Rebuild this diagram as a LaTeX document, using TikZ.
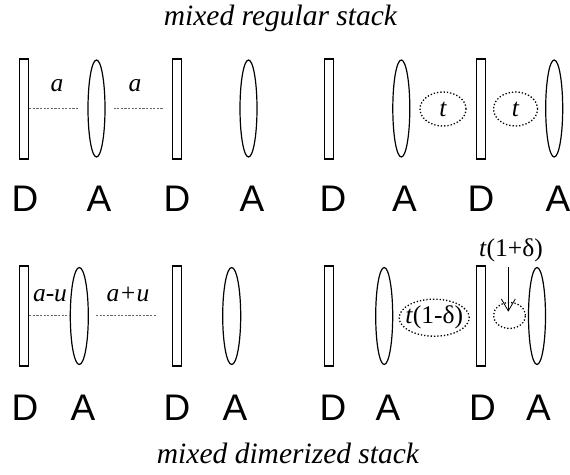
\documentclass[tikz,border=0pt]{standalone}
\usepackage{fontspec}
\setmainfont{Liberation Serif}
\newfontfamily\lsans{Liberation Sans}
\usetikzlibrary{shapes.geometric,arrows.meta}
\tikzset{
  donor/.style={draw, rectangle, line width=1.2pt, minimum width=9pt, minimum height=100pt, inner sep=0pt},
  acceptor/.style={draw, ellipse, line width=1.2pt, minimum width=17pt, minimum height=97pt, inner sep=0pt},
  hop/.style={draw, ellipse, dotted, line width=1.3pt, inner sep=0pt},
  lbl/.style={font=\lsans\fontsize{37}{37}\selectfont, anchor=base, inner sep=0pt},
  ttl/.style={font=\fontsize{29.5}{29.5}\selectfont\itshape, anchor=base, inner sep=0pt},
  sym/.style={font=\fontsize{25.5}{25.5}\selectfont, anchor=base, inner sep=0pt},
  dist/.style={draw=black!60, dashed, dash pattern=on 2.2pt off 1.4pt, line width=0.7pt},
}
\begin{document}
\begin{tikzpicture}[x=1pt,y=-1pt]
\useasboundingbox (0,0) rectangle (570,474);
% titles
\node[ttl] (t1) at (280.5,25) {mixed regular stack};
\node[ttl] (t2) at (288,463) {mixed dimerized stack};
% top row
\node[donor] (uD1) at (24,109) {};
\node[acceptor] (uA1) at (96.5,108.5) {};
\node[donor] (uD2) at (177.3,109) {};
\node[acceptor] (uA2) at (248.5,108.5) {};
\node[donor] (uD3) at (329,109) {};
\node[acceptor] (uA3) at (401.3,108.5) {};
\node[hop, minimum width=46pt, minimum height=34pt] (uh1) at (443,109) {};
\node[donor] (uD4) at (481.2,109) {};
\node[hop, minimum width=44pt, minimum height=34pt] (uh2) at (515.5,109) {};
\node[acceptor] (uA4) at (554.2,108.5) {};
\node[sym, anchor=center] (ut1) at (uh1.center) {\itshape t};
\node[sym, anchor=center] (ut2) at (uh2.center) {\itshape t};
\draw[dist, shorten >=9pt] (uD1.east |- 0,108.7) -- (uA1.west |- 0,108.7);
\draw[dist, shorten <=8pt, shorten >=9pt] (uA1.east |- 0,108.7) -- (uD2.west |- 0,108.7);
\node[sym] (ua1) at (57,91.7) {\itshape a};
\node[sym] (ua2) at (135,91.7) {\itshape a};
\node[lbl] (ul1) at (25,211.7) {D};
\node[lbl] (ul2) at (99,211.7) {A};
\node[lbl] (ul3) at (177,211.7) {D};
\node[lbl] (ul4) at (252,211.7) {A};
\node[lbl] (ul5) at (333,211.7) {D};
\node[lbl] (ul6) at (404.5,211.7) {A};
\node[lbl] (ul7) at (481,211.7) {D};
\node[lbl] (ul8) at (558,211.7) {A};
% bottom row
\node[donor] (lD1) at (24,316) {};
\node[acceptor, minimum width=18pt] (lA1) at (79.3,316) {};
\node[donor] (lD2) at (177.2,316) {};
\node[acceptor, minimum width=18pt] (lA2) at (231.7,316) {};
\node[donor] (lD3) at (329,316) {};
\node[acceptor] (lA3) at (384.2,316) {};
\node[hop, minimum width=70pt, minimum height=37pt] (lh1) at (434.2,317.7) {};
\node[donor] (lD4) at (481.2,316) {};
\node[hop, minimum width=32pt, minimum height=26pt] (lh2) at (509.5,315.5) {};
\node[acceptor] (lA4) at (537,316) {};
\node[sym, anchor=center] (lt1) at (lh1.center) {\textit{t}(1-δ)};
\draw[dist] (lD1.east |- 0,315.7) -- (lA1.west |- 0,315.7);
\draw[dist, shorten <=7pt, shorten >=16pt] (lA1.east |- 0,315.7) -- (lD2.west |- 0,315.7);
\node[sym] (la1) at (50,301.7) {\itshape a-u};
\node[sym] (la2) at (128,301.7) {\itshape a+u};
\node[sym] (lt2) at (511,256.7) {\textit{t}(1+δ)};
\coordinate (tip) at (508.3,311.7);
\draw[line width=0.8pt, -{Straight Barb[length=12pt,width=14pt,line width=0.8pt]}] (tip |- lt2.south) ++(0,5) -- (tip);
\node[lbl] (ll1) at (25,420) {D};
\node[lbl] (ll2) at (83,420) {A};
\node[lbl] (ll3) at (177,420) {D};
\node[lbl] (ll4) at (235,420) {A};
\node[lbl] (ll5) at (333,420) {D};
\node[lbl] (ll6) at (388,420) {A};
\node[lbl] (ll7) at (482.5,420) {D};
\node[lbl] (ll8) at (538.5,420) {A};
\end{tikzpicture}
\end{document}
